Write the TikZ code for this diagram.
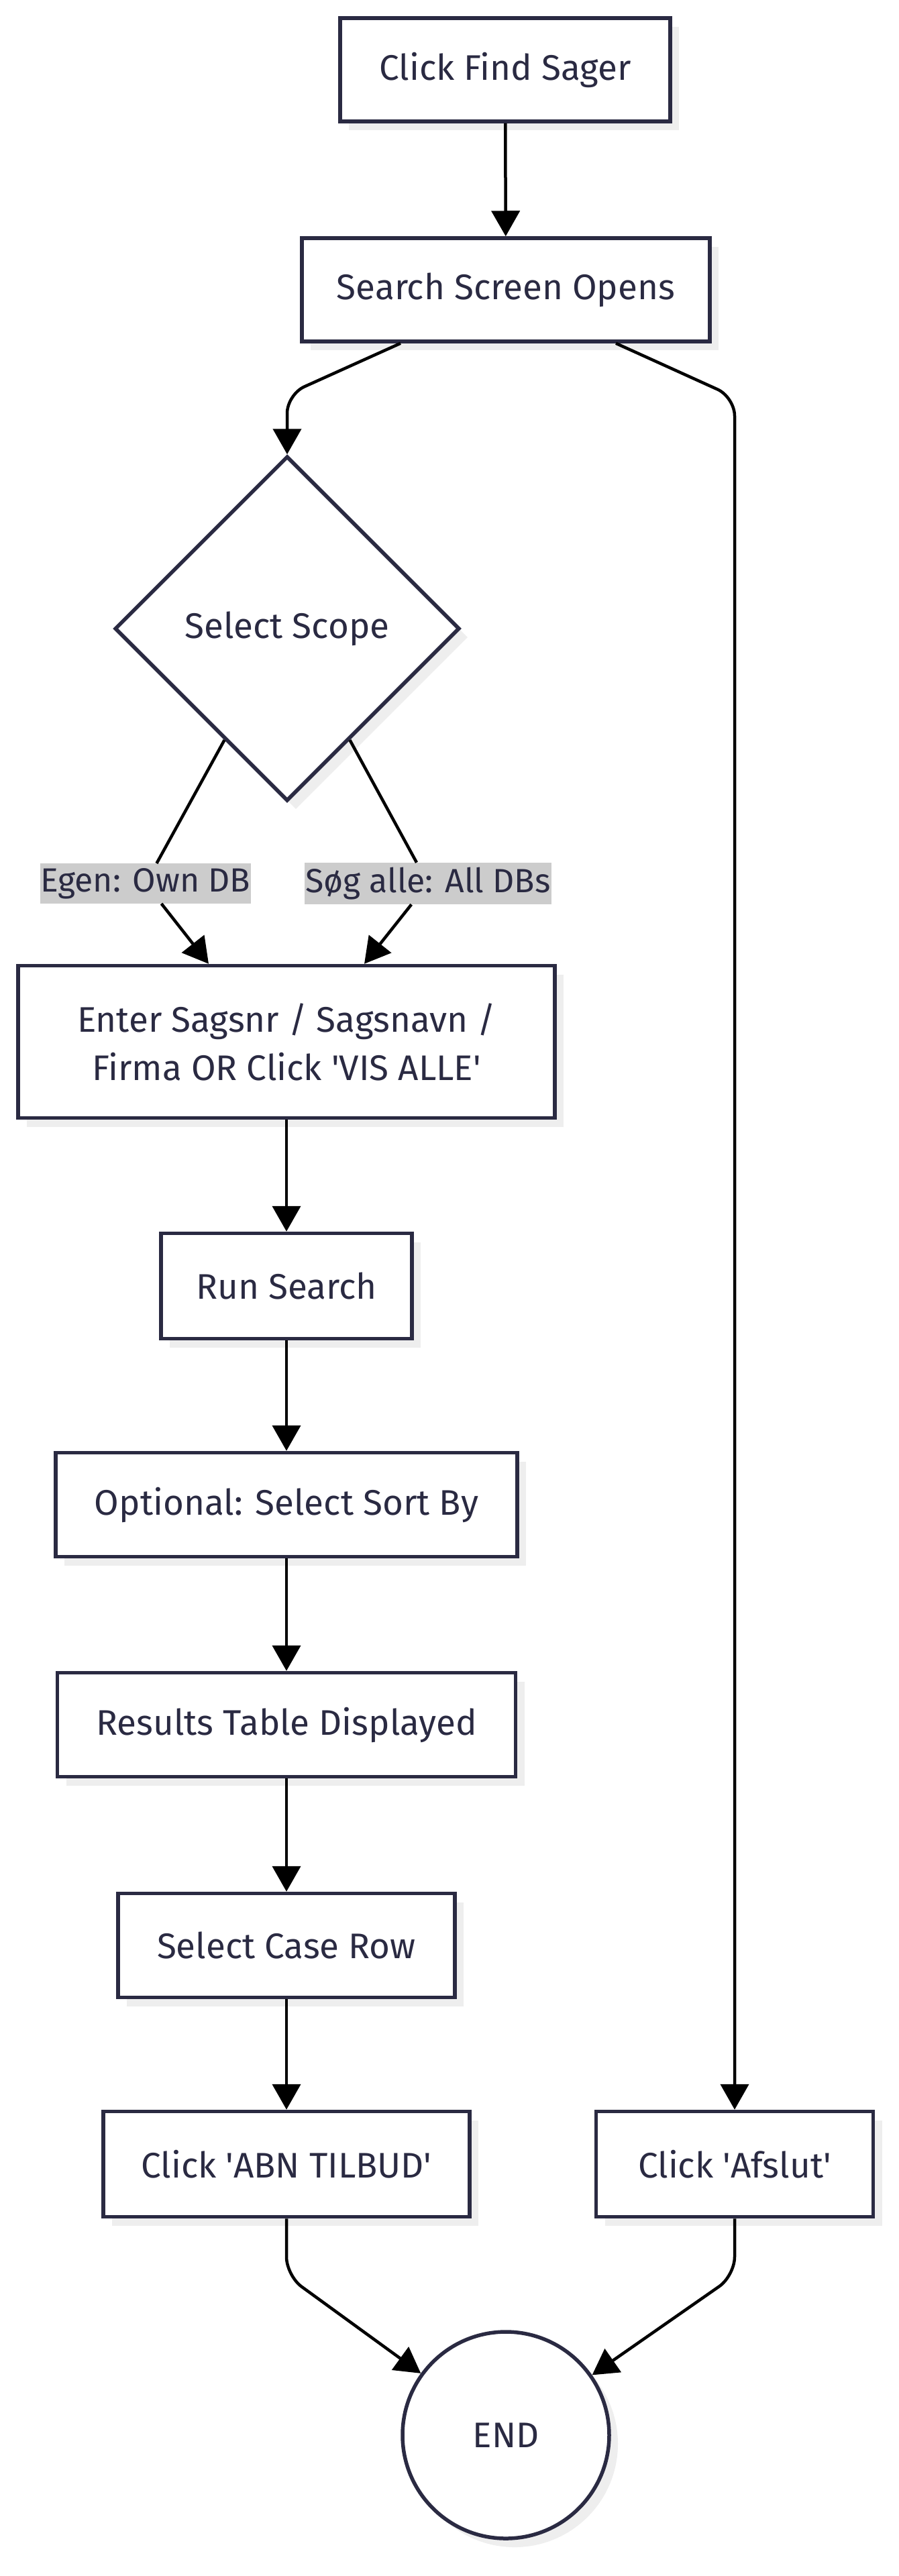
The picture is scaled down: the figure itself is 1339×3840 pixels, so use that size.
\documentclass[tikz,border=0pt]{standalone}
\usepackage{fontspec}
\setmainfont{Fira Sans}
\usetikzlibrary{arrows.meta,shapes.geometric,shadows,calc}

\definecolor{inkblue}{RGB}{42,42,66}
\definecolor{shadowgray}{RGB}{238,238,238}
\definecolor{labelgray}{RGB}{204,204,204}

\tikzset{
  box/.style={rectangle, draw=inkblue, line width=5.5pt, fill=white, text=inkblue,
    inner sep=0pt, align=center, font=\fontsize{53}{72}\selectfont,
    drop shadow={shadow xshift=13pt, shadow yshift=-13pt, fill=shadowgray, opacity=1}},
  decision/.style={box, diamond, aspect=1, minimum size=514pt},
  stopnode/.style={box, circle, minimum size=308pt},
  edgelabel/.style={fill=labelgray, text=inkblue, inner xsep=1pt, inner ysep=7pt,
    font=\fontsize{50}{70}\selectfont},
  flow/.style={draw=black, line width=4.5pt, -{Triangle[length=38pt, width=42pt]}}
}

\begin{document}
\begin{tikzpicture}[x=1pt, y=-1pt]
    \useasboundingbox[fill=white] (0,0) rectangle (1339,3840);

    % start and search screen
    \node[box, minimum width=492pt, minimum height=154pt] (find) at (753,104) {Click Find Sager};
    \node[box, minimum width=608pt, minimum height=154pt] (search) at (754,432) {Search Screen Opens};

    % scope decision
    \node[decision] (scope) at (428,937) {Select Scope};
    \node[edgelabel] (egen) at (217,1317) {Egen: Own DB};
    \node[edgelabel] (soeg) at (638,1317) {Søg alle: All DBs};

    % left column
    \node[box, minimum width=800pt, minimum height=227pt] (enter) at (427,1553)
        {Enter Sagsnr / Sagsnavn /\\Firma OR Click \textquotesingle VIS ALLE\textquotesingle};
    \node[box, minimum width=374pt, minimum height=157pt] (run) at (427,1917) {Run Search};
    \node[box, minimum width=688pt, minimum height=155pt] (sortby) at (427,2243) {Optional: Select Sort By};
    \node[box, minimum width=683pt, minimum height=155pt] (results) at (427,2571) {Results Table Displayed};
    \node[box, minimum width=502pt, minimum height=155pt] (caserow) at (427,2900) {Select Case Row};
    \node[box, minimum width=546pt, minimum height=157pt] (abn) at (427,3226)
        {Click \textquotesingle ABN TILBUD\textquotesingle};

    % right column and end
    \node[box, minimum width=413pt, minimum height=157pt] (afslut) at (1095,3226)
        {Click \textquotesingle Afslut\textquotesingle};
    \node[stopnode] (endc) at (754,3630) {END};

    \coordinate (lbend) at (428,588);
    \coordinate (rbend) at (1095,592);

    % connectors
    \draw[flow] (find) -- (search);
    \draw[flow, rounded corners=28pt] ([xshift=-157pt]search.south) -- (lbend) -- (scope.north);
    \draw[flow, rounded corners=28pt] ([xshift=164pt]search.south) -- (rbend) -- (afslut.north);
    \draw[flow] ($(scope.west)!0.64!(scope.south)$) -- (egen) -- ([xshift=-116pt]enter.north);
    \draw[flow] ($(scope.south)!0.36!(scope.east)$) -- (soeg) -- ([xshift=116pt]enter.north);
    \draw[flow] (enter) -- (run);
    \draw[flow] (run) -- (sortby);
    \draw[flow] (sortby) -- (results);
    \draw[flow] (results) -- (caserow);
    \draw[flow] (caserow) -- (abn);
    \draw[flow, rounded corners=28pt] (abn.south) -- ++(0,85) -- (endc);
    \draw[flow, rounded corners=28pt] (afslut.south) -- ++(0,85) -- (endc);
\end{tikzpicture}
\end{document}
